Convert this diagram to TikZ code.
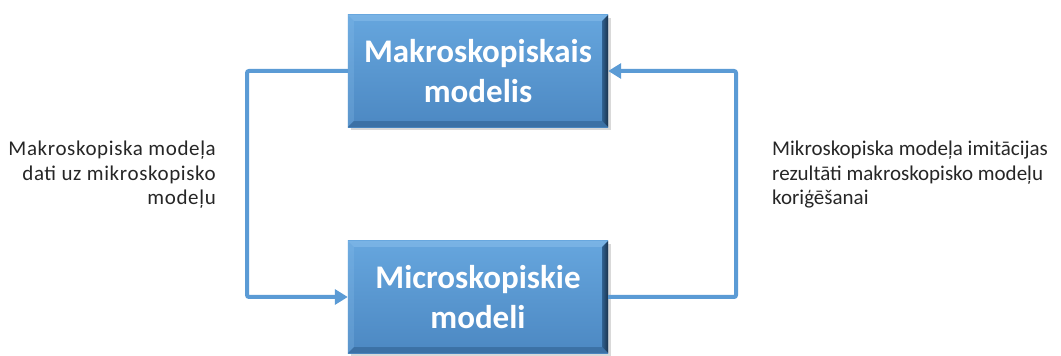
\documentclass[tikz,border=0pt]{standalone}
\usepackage{fontspec}
\setmainfont{Carlito}
\usetikzlibrary{arrows.meta,calc}
\definecolor{flow}{HTML}{5B9BD5}
\definecolor{boxtop}{HTML}{66A6DE}
\definecolor{boxbot}{HTML}{4C88C2}
\definecolor{bevlight}{HTML}{8CC0EC}
\definecolor{bevdark}{HTML}{2F5F8E}
\definecolor{bevdeep}{HTML}{1A324C}
\tikzset{
  x=1pt, y=1pt,
  modelbox/.style={minimum width=260pt, minimum height=112pt, inner sep=0pt,
    align=center, text=white, font=\fontsize{33}{40}\selectfont\bfseries},
  flowline/.style={draw=flow, line width=4pt, rounded corners=2pt},
  flowarrow/.style={flowline, -{Triangle[length=13pt,width=15pt]}},
  note/.style={font=\fontsize{21}{24.5}\selectfont, text=black!85, inner sep=0pt},
  widenote/.style={note, font=\fontsize{21}{24.5}\addfontfeature{LetterSpace=3}\selectfont}
}
% bevelled, shaded block drawn behind a named node
\newcommand{\bevelbox}[1]{%
  \fill[black!15] ($(#1.south west)+(3,-3)$) rectangle ($(#1.north east)+(3,-3)$);
  \shade[top color=boxtop, bottom color=boxbot] (#1.south west) rectangle (#1.north east);
  \fill[bevlight, opacity=.5] (#1.north west) -- (#1.north east) -- ($(#1.north east)+(-6,-6)$) -- ($(#1.north west)+(6,-6)$) -- cycle;
  \fill[bevlight, opacity=.25] (#1.north west) -- ($(#1.north west)+(6,-6)$) -- ($(#1.south west)+(6,6)$) -- (#1.south west) -- cycle;
  \shade[left color=bevdark, right color=bevdeep] (#1.north east) -- (#1.south east) -- ($(#1.south east)+(-6,6)$) -- ($(#1.north east)+(-6,-6)$) -- cycle;
  \fill[bevdark, opacity=.55] (#1.south west) -- ($(#1.south west)+(6,6)$) -- ($(#1.south east)+(-6,6)$) -- (#1.south east) -- cycle;
}
\begin{document}
\begin{tikzpicture}
\useasboundingbox (0,0) rectangle (1061,356);
% block positions
\path (478,285) node[modelbox] (macro) {};
\path (478,59) node[modelbox] (micro) {};
\bevelbox{macro}
\bevelbox{micro}
\node[modelbox] at (macro) {Makroskopiskais\\modelis};
\node[modelbox] at (micro) {Microskopiskie\\modeli};
% feedback loop
\coordinate (lt) at (247,285);
\coordinate (lb) at (247,59);
\coordinate (rb) at (736,59);
\coordinate (rt) at (736,285);
\draw[flowarrow] (macro.west) -- (lt) -- (lb) -- (micro.west);
\draw[flowarrow] (micro.east) -- (rb) -- (rt) -- (macro.east);
% side notes
\node[widenote, align=right, anchor=north east] (lnote) at (216,215)
  {Makroskopiska modeļa\\dati uz mikroskopisko\\modeļu};
\node[note, align=left, anchor=north west] (rnote) at (772,215)
  {Mikroskopiska modeļa imitācijas\\rezultāti makroskopisko modeļu\\koriģēšanai};
\end{tikzpicture}
\end{document}
